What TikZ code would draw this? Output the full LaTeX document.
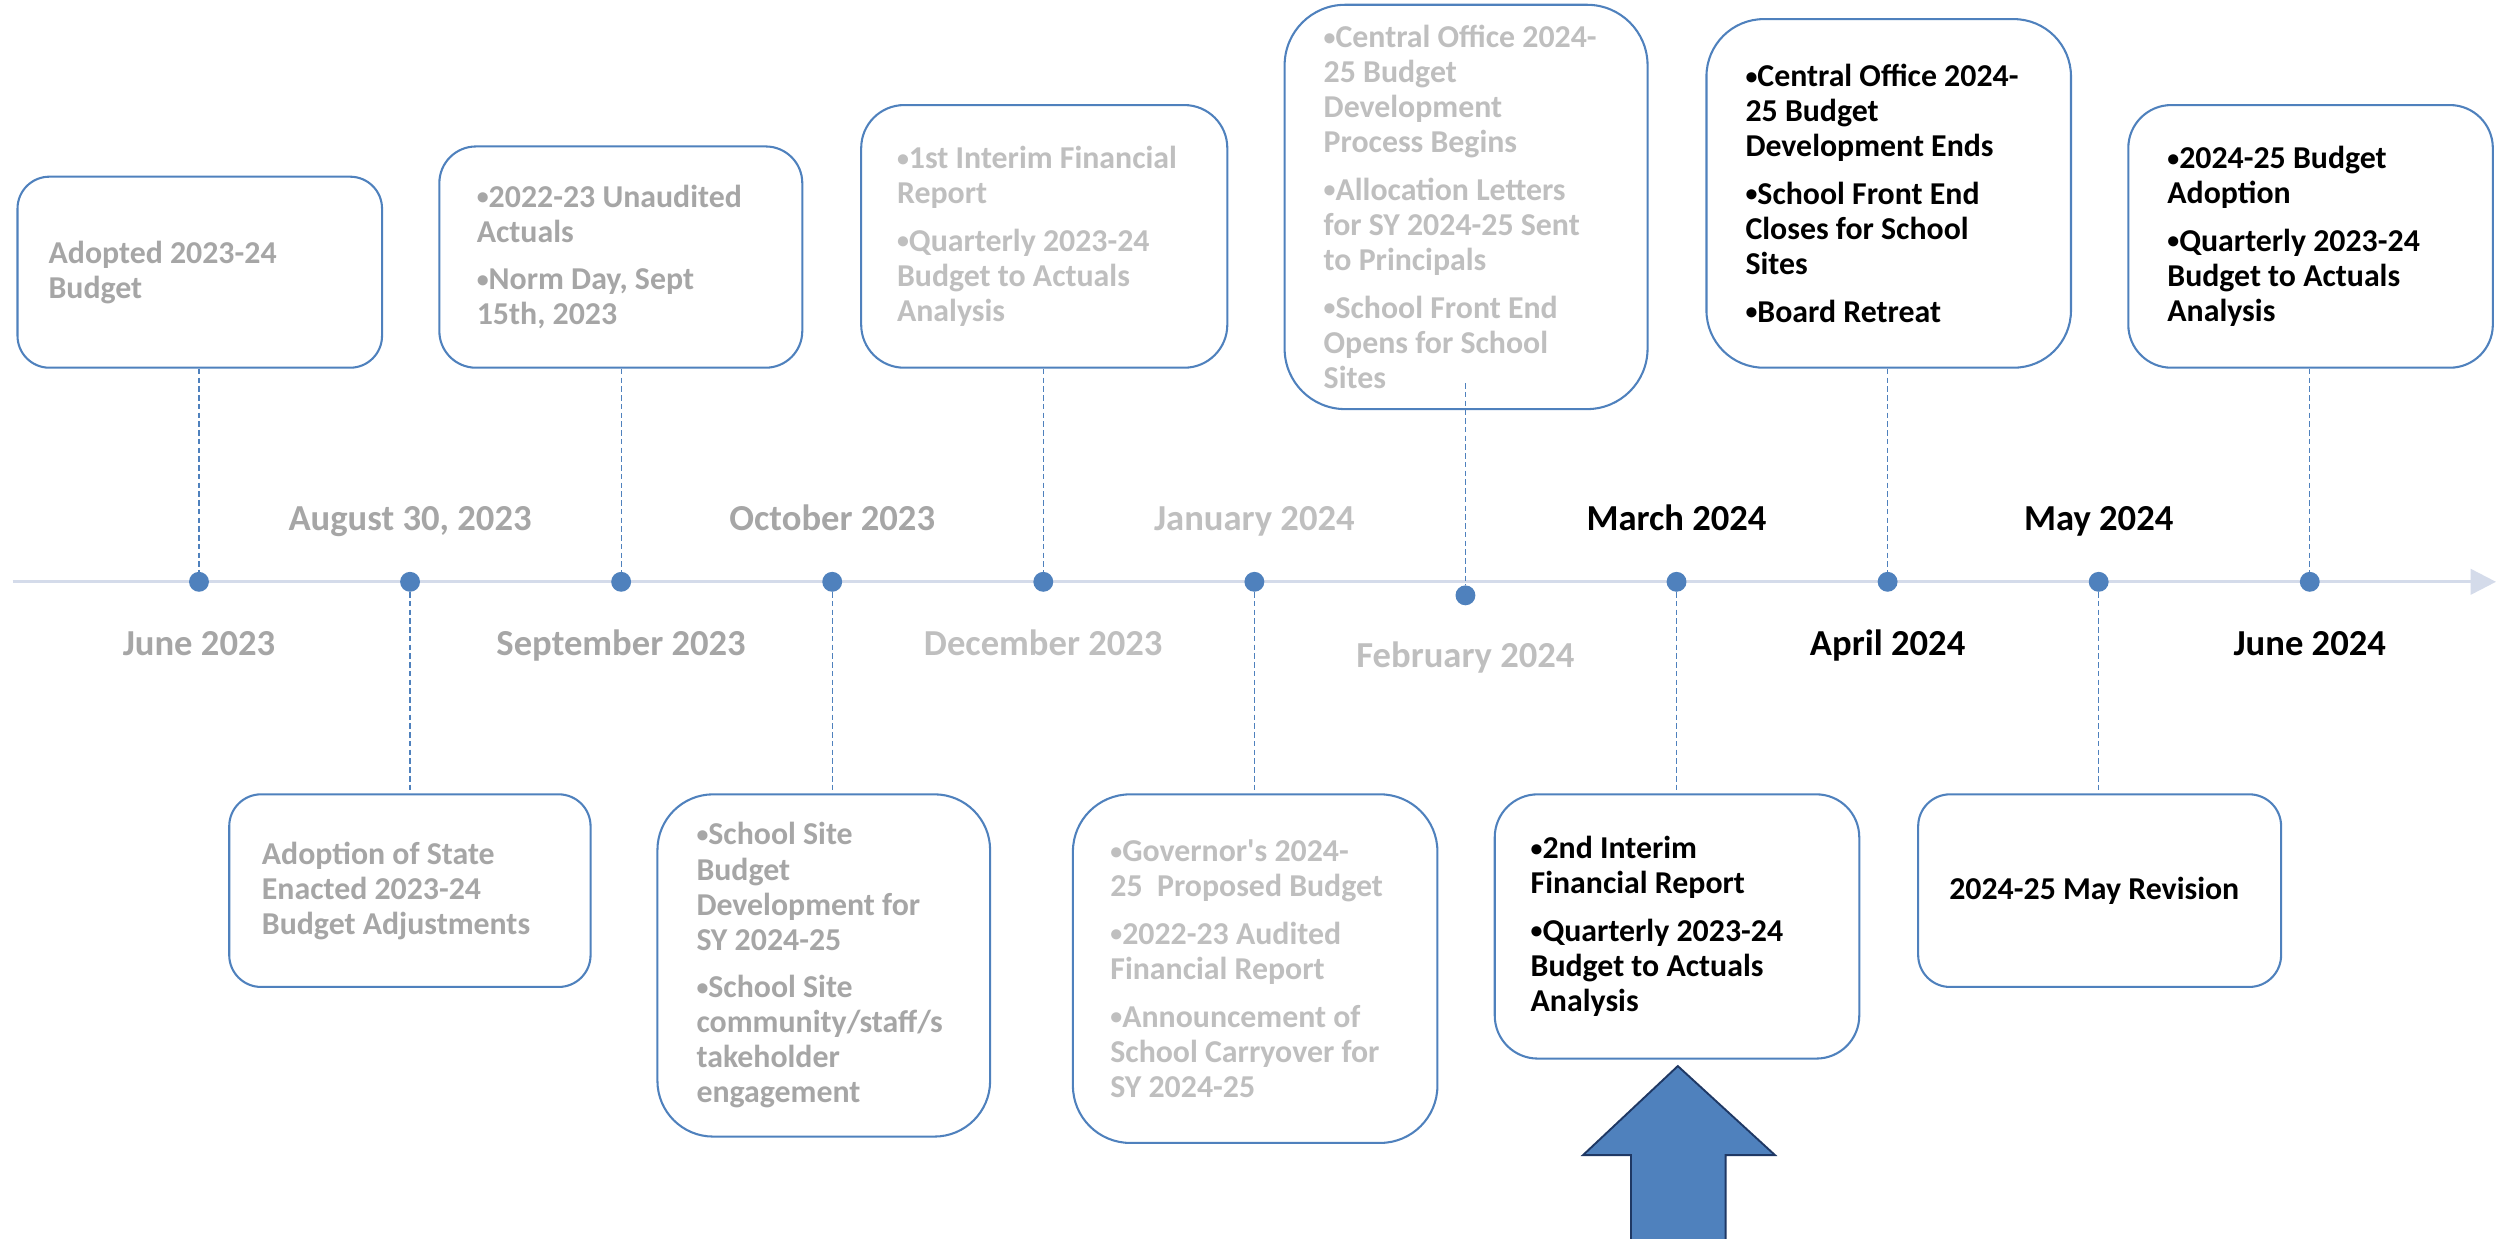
\documentclass[tikz,border=0pt]{standalone}
\usepackage{fontspec}
\usepackage{graphicx}
\setmainfont{Carlito}
\usetikzlibrary{arrows.meta,calc}
\definecolor{boxblue}{HTML}{4F81BD}
\definecolor{axisblue}{HTML}{D4DBEA}
\definecolor{gdark}{HTML}{A6A6A6}
\definecolor{glight}{HTML}{BFBFBF}
\definecolor{navy}{HTML}{1F3864}
% smaller bullet, like the reference
\newcommand{\bul}{\raisebox{1.6pt}{\scalebox{0.75}{•}}}
% name, x1, y1, x2, y2, radius
\newcommand{\mkbox}[6]{%
  \node[box, rounded corners=#6pt, minimum width={(#4-#2)*1pt}, minimum height={(#5-#3)*1pt}]
    (#1) at ({(#2+#4)/2},{(#3+#5)/2}) {};}
\begin{document}
\begin{tikzpicture}[x=1pt,y=-1pt,
  box/.style={draw=boxblue, line width=1.3pt, fill=white, inner sep=0pt},
  txt/.style={align=left, inner sep=0pt, anchor=west, font=\fontsize{20}{22}\selectfont\bfseries},
  datelbl/.style={anchor=base, inner sep=0pt, font=\fontsize{23}{27}\selectfont\bfseries},
  conn/.style={boxblue, line width=0.8pt, dash pattern=on 3.5pt off 2pt},
  dot/.style={circle, fill=boxblue, inner sep=0pt, minimum size=12.5pt},
  axis/.style={axisblue, line width=1.8pt, -{Triangle[length=16pt,width=16pt]}},
  blockarrow/.style={fill=boxblue, draw=navy, line width=1.2pt, line join=miter}
]
\useasboundingbox (0,0) rectangle (1568,778);

% timeline
\coordinate (ax0) at (8,365.5);
\coordinate (ax1) at (1568,365.5);
\draw[axis] (ax0) -- (ax1);

% boxes
\mkbox{b1}{11}{111}{240}{231}{20}
\mkbox{b2}{276}{92}{504}{231}{23}
\mkbox{b3}{541}{66}{771}{231}{27}
\mkbox{b4}{807}{3}{1035}{257}{38}
\mkbox{b5}{1072}{12}{1301}{231}{36}
\mkbox{b6}{1337}{66}{1566}{231}{27}
\mkbox{c1}{144}{499}{371}{620}{20}
\mkbox{c2}{413}{499}{622}{714}{35}
\mkbox{c3}{674}{499}{903}{718}{36}
\mkbox{c4}{939}{499}{1168}{665}{27}
\mkbox{c5}{1205}{499}{1433}{620}{20}

% box texts
\node[txt, text=gdark] (t1) at ($(b1.west)+(20,0)$) {Adopted 2023-24\\Budget};
\node[txt, text=gdark] (t2) at ($(b2.west)+(24,0)$) {\bul2022-23 Unaudited\\Actuals\\[8pt]\bul Norm Day, Sept\\15th, 2023};
\node[txt, text=glight] (t3) at ($(b3.west)+(23,0)$) {\bul1st Interim Financial\\Report\\[8pt]\bul Quarterly 2023-24\\Budget to Actuals\\Analysis};
\node[txt, text=glight] (t4) at ($(b4.west)+(25,0)$) {\bul Central Office 2024-\\25 Budget\\Development\\Process Begins\\[8pt]\bul Allocation Letters\\for SY 2024-25 Sent\\to Principals\\[8pt]\bul School Front End\\Opens for School\\Sites};
\node[txt, text=black] (t5) at ($(b5.west)+(25,0)$) {\bul Central Office 2024-\\25 Budget\\Development Ends\\[8pt]\bul School Front End\\Closes for School\\Sites\\[8pt]\bul Board Retreat};
\node[txt, text=black] (t6) at ($(b6.west)+(25,0)$) {\bul2024-25 Budget\\Adoption\\[8pt]\bul Quarterly 2023-24\\Budget to Actuals\\Analysis};
\node[txt, text=gdark] (u1) at ($(c1.west)+(21,0)$) {Adoption of State\\Enacted 2023-24\\Budget Adjustments};
\node[txt, text=gdark] (u2) at ($(c2.west)+(25,0)$) {\bul School Site\\Budget\\Development for\\SY 2024-25\\[8pt]\bul School Site\\community/staff/s\\takeholder\\engagement};
\node[txt, text=glight] (u3) at ($(c3.west)+(24,0)$) {\bul Governor\textquotesingle s 2024-\\25\ \ Proposed Budget\\[8pt]\bul2022-23 Audited\\Financial Report\\[8pt]\bul Announcement of\\School Carryover for\\SY 2024-25};
\node[txt, text=black] (u4) at ($(c4.west)+(23,0)$) {\bul2nd Interim\\Financial Report\\[8pt]\bul Quarterly 2023-24\\Budget to Actuals\\Analysis};
\node[txt, text=black] (u5) at ($(c5.west)+(20,0)$) {2024-25 May Revision};

% dots
\node[dot] (d0) at (125,365.5) {};
\node[dot] (d1) at (257.6,365.5) {};
\node[dot] (d2) at (390.2,365.5) {};
\node[dot] (d3) at (522.8,365.5) {};
\node[dot] (d4) at (655.4,365.5) {};
\node[dot] (d5) at (788,365.5) {};
\node[dot] (d6) at (920.6,374) {};
\node[dot] (d7) at (1053.2,365.5) {};
\node[dot] (d8) at (1185.8,365.5) {};
\node[dot] (d9) at (1318.4,365.5) {};
\node[dot] (d10) at (1451,365.5) {};

% connectors
\draw[conn] (d0 |- b1.south) -- (d0);
\draw[conn] (d2 |- b2.south) -- (d2);
\draw[conn] (d4 |- b3.south) -- (d4);
\coordinate (k4) at ($(d6 |- b4.south)+(0,-17)$);
\draw[conn] (k4) -- (d6);
\draw[conn] (d8 |- b5.south) -- (d8);
\draw[conn] (d10 |- b6.south) -- (d10);
\draw[conn] (d1) -- (d1 |- c1.north);
\draw[conn] (d3) -- (d3 |- c2.north);
\draw[conn] (d5) -- (d5 |- c3.north);
\draw[conn] (d7) -- (d7 |- c4.north);
\draw[conn] (d9) -- (d9 |- c5.north);

% date labels
\node[datelbl, text=gdark] (l0) at (125,411.5) {June 2023};
\node[datelbl, text=gdark] (l1) at (257.6,333.5) {August 30, 2023};
\node[datelbl, text=gdark] (l2) at (390.2,411.5) {September 2023};
\node[datelbl, text=gdark] (l3) at (522.8,333.5) {October 2023};
\node[datelbl, text=glight] (l4) at (655.4,411.5) {December 2023};
\node[datelbl, text=glight] (l5) at (788,333.5) {January 2024};
\node[datelbl, text=glight] (l6) at (920.6,419.5) {February 2024};
\node[datelbl, text=black] (l7) at (1053.2,333.5) {March 2024};
\node[datelbl, text=black] (l8) at (1185.8,411.5) {April 2024};
\node[datelbl, text=black] (l9) at (1318.4,333.5) {May 2024};
\node[datelbl, text=black] (l10) at (1451,411.5) {June 2024};

% big up arrow
\draw[blockarrow] (1054,669.7) -- (1115,725.6) -- (1084,725.6) -- (1084,790)
  -- (1024.6,790) -- (1024.6,725.6) -- (994.5,725.6) -- cycle;
\end{tikzpicture}
\end{document}
